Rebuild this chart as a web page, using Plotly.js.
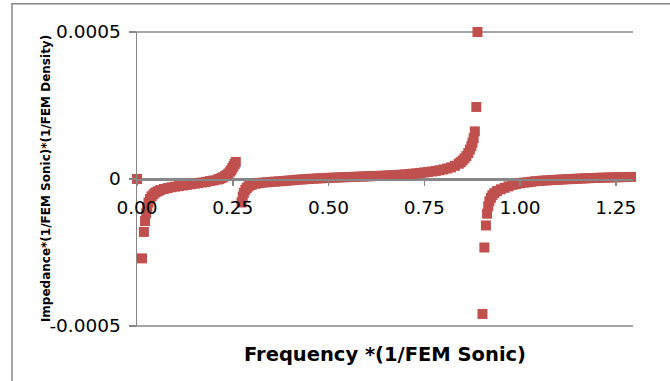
<!DOCTYPE html>
<html>
<head>
<meta charset="utf-8">
<script src="https://cdn.plot.ly/plotly-3.0.1.min.js"></script>
<style>html,body{margin:0;padding:0;background:#fff;}#chart{width:670px;height:381px;}</style>
</head>
<body>
<div id="chart"></div>
<script>
// Branch 1 (0 .. first pole)
const freq1 = [0, 0.013, 0.018, 0.021, 0.024, 0.027, 0.030, 0.034, 0.038, 0.043, 0.048, 0.054, 0.06, 0.07, 0.08, 0.09, 0.10, 0.11, 0.12, 0.13, 0.14, 0.15, 0.16, 0.17, 0.18, 0.19, 0.20, 0.21, 0.215, 0.22, 0.225, 0.23, 0.235, 0.239, 0.243, 0.246, 0.249, 0.252, 0.255, 0.258];
const imp1 = [0, -0.00027, -0.00018, -0.000143, -0.000116, -0.000096, -0.000080, -0.000068, -0.000059, -0.000052, -0.000046, -0.000042, -0.000038, -0.000034, -0.000031, -0.000028, -0.000026, -0.000024, -0.000022, -0.000020, -0.000018, -0.000016, -0.000014, -0.000012, -0.000010, -0.000007, -0.000005, -0.000002, 0.0, 0.000003, 0.000006, 0.000010, 0.000014, 0.000019, 0.000025, 0.000030, 0.000037, 0.000044, 0.000051, 0.000058];

// Branch 2 (first pole .. second pole)
const freq2 = [0.273, 0.276, 0.279, 0.283, 0.287, 0.291, 0.296, 0.30, 0.31, 0.32, 0.33, 0.34, 0.35, 0.36, 0.37, 0.38, 0.39, 0.40, 0.41, 0.42, 0.43, 0.44, 0.45, 0.46, 0.47, 0.48, 0.49, 0.50, 0.51, 0.52, 0.53, 0.54, 0.55, 0.56, 0.57, 0.58, 0.59, 0.60, 0.61, 0.62, 0.63, 0.64, 0.65, 0.66, 0.67, 0.68, 0.69, 0.70, 0.71, 0.72, 0.73, 0.74, 0.75, 0.76, 0.77, 0.78, 0.79, 0.80, 0.81, 0.82, 0.83, 0.84, 0.845, 0.85, 0.855, 0.86, 0.865, 0.869, 0.873, 0.876, 0.879, 0.882, 0.886, 0.889];
const imp2 = [-0.000080, -0.000060, -0.000047, -0.000037, -0.000030, -0.000025, -0.000021, -0.000019, -0.000016, -0.000014, -0.000012, -0.000011, -0.000010, -0.000009, -0.000008, -0.000007, -0.000006, -0.0000048, -0.0000036, -0.0000025, -0.0000015, -0.0000006, 0.0000002, 0.000001, 0.0000018, 0.0000025, 0.0000032, 0.0000038, 0.0000044, 0.000005, 0.0000055, 0.000006, 0.0000065, 0.000007, 0.0000075, 0.000008, 0.0000085, 0.000009, 0.0000095, 0.00001, 0.0000105, 0.000011, 0.0000116, 0.0000123, 0.000013, 0.0000138, 0.0000147, 0.0000157, 0.0000168, 0.000018, 0.0000193, 0.0000207, 0.0000222, 0.0000238, 0.0000255, 0.0000275, 0.0000298, 0.0000325, 0.0000357, 0.0000395, 0.000045, 0.000052, 0.000057, 0.000063, 0.00007, 0.000078, 0.000088, 0.0001, 0.000112, 0.000124, 0.000139, 0.000162, 0.000245, 0.0005];

// Branch 3 (after second pole)
const freq3 = [0.902, 0.907, 0.911, 0.914, 0.917, 0.920, 0.924, 0.928, 0.933, 0.94, 0.95, 0.96, 0.97, 0.98, 0.99, 1.00, 1.01, 1.02, 1.03, 1.04, 1.05, 1.06, 1.07, 1.08, 1.09, 1.10, 1.11, 1.12, 1.13, 1.14, 1.15, 1.16, 1.17, 1.18, 1.19, 1.20, 1.21, 1.22, 1.23, 1.24, 1.25, 1.26, 1.27, 1.28, 1.29, 1.30];
const imp3 = [-0.000459, -0.000233, -0.000158, -0.000118, -0.000093, -0.000076, -0.000064, -0.000055, -0.000048, -0.000041, -0.000035, -0.00003, -0.000025, -0.00002, -0.000017, -0.0000145, -0.0000125, -0.000011, -0.0000095, -0.0000075, -0.0000065, -0.0000056, -0.0000047, -0.0000039, -0.0000031, -0.0000024, -0.0000017, -0.000001, -0.0000003, 0.0000004, 0.000001, 0.0000016, 0.0000022, 0.0000028, 0.0000033, 0.0000038, 0.0000042, 0.0000046, 0.000005, 0.0000054, 0.0000058, 0.0000062, 0.0000065, 0.0000068, 0.0000071, 0.0000074];

const xTickVals = [0, 0.25, 0.5, 0.75, 1.0, 1.25];
const xTickText = ['0.00', '0.25', '0.50', '0.75', '1.00', '1.25'];
const yTickVals = [-0.0005, 0, 0.0005];
const yTickText = ['-0.0005', '0', '0.0005'];

const xTitle = 'Frequency *(1/FEM Sonic)';
const yTitle = 'Impedance*(1/FEM Sonic)*(1/FEM Density)';

const grey = '#878787';
const fontFam = 'DejaVu Sans, sans-serif';

const trace = {
  x: freq1.concat(freq2, freq3),
  y: imp1.concat(imp2, imp3),
  type: 'scatter',
  mode: 'markers',
  marker: {symbol: 'square', size: 10, color: '#C0504D', line: {width: 0}},
  cliponaxis: false,
  hoverinfo: 'none'
};

// horizontal gridlines at the top and bottom edges of the plot area
const edgeGrid = [0, 1].map(function (py) {
  return {type: 'line', xref: 'paper', yref: 'paper', x0: -0.015, x1: 1, y0: py, y1: py,
          line: {color: grey, width: 1.5}, layer: 'below'};
});

const layout = {
  width: 670, height: 381,
  margin: {l: 137, r: 37, t: 32, b: 55, pad: 0},
  paper_bgcolor: '#ffffff', plot_bgcolor: '#ffffff',
  showlegend: false,
  font: {family: fontFam, color: '#000'},
  xaxis: {
    range: [0, 1.295], anchor: 'free', position: 0.5,
    tickvals: xTickVals, ticktext: xTickText,
    showgrid: false, zeroline: false,
    showline: true, linecolor: grey, linewidth: 1.5,
    ticks: 'outside', ticklen: 5, tickcolor: grey, tickwidth: 1.5,
    tickfont: {family: fontFam, size: 18.5, color: '#000'},
    ticklabelstandoff: 6
  },
  yaxis: {
    range: [-0.0005, 0.0005],
    tickvals: yTickVals, ticktext: yTickText,
    showgrid: true, gridcolor: grey, gridwidth: 1.5,
    zeroline: false,
    showline: true, linecolor: grey, linewidth: 1.5,
    ticks: 'outside', ticklen: 7, tickcolor: grey, tickwidth: 1.5,
    tickfont: {family: fontFam, size: 18.5, color: '#000'},
    ticklabelstandoff: 4
  },
  shapes: [{
    type: 'rect', xref: 'paper', yref: 'paper',
    x0: -0.252, x1: 1.3, y0: -0.4, y1: 1.0959,
    line: {color: grey, width: 1.5}, fillcolor: 'rgba(0,0,0,0)', layer: 'below'
  }].concat(edgeGrid),
  annotations: [
    {text: xTitle, xref: 'paper', yref: 'paper', x: 0.5, y: -0.096,
     xanchor: 'center', yanchor: 'middle', showarrow: false,
     font: {family: fontFam, size: 19.5, weight: 'bold', color: '#000'}},
    {text: yTitle, xref: 'paper', yref: 'paper', x: -0.1835, y: 0.503,
     xanchor: 'center', yanchor: 'middle', showarrow: false, textangle: -90,
     font: {family: fontFam, size: 12, weight: 'bold', color: '#000'}}
  ]
};

Plotly.newPlot('chart', [trace], layout, {staticPlot: true, displayModeBar: false});
</script>
</body>
</html>
